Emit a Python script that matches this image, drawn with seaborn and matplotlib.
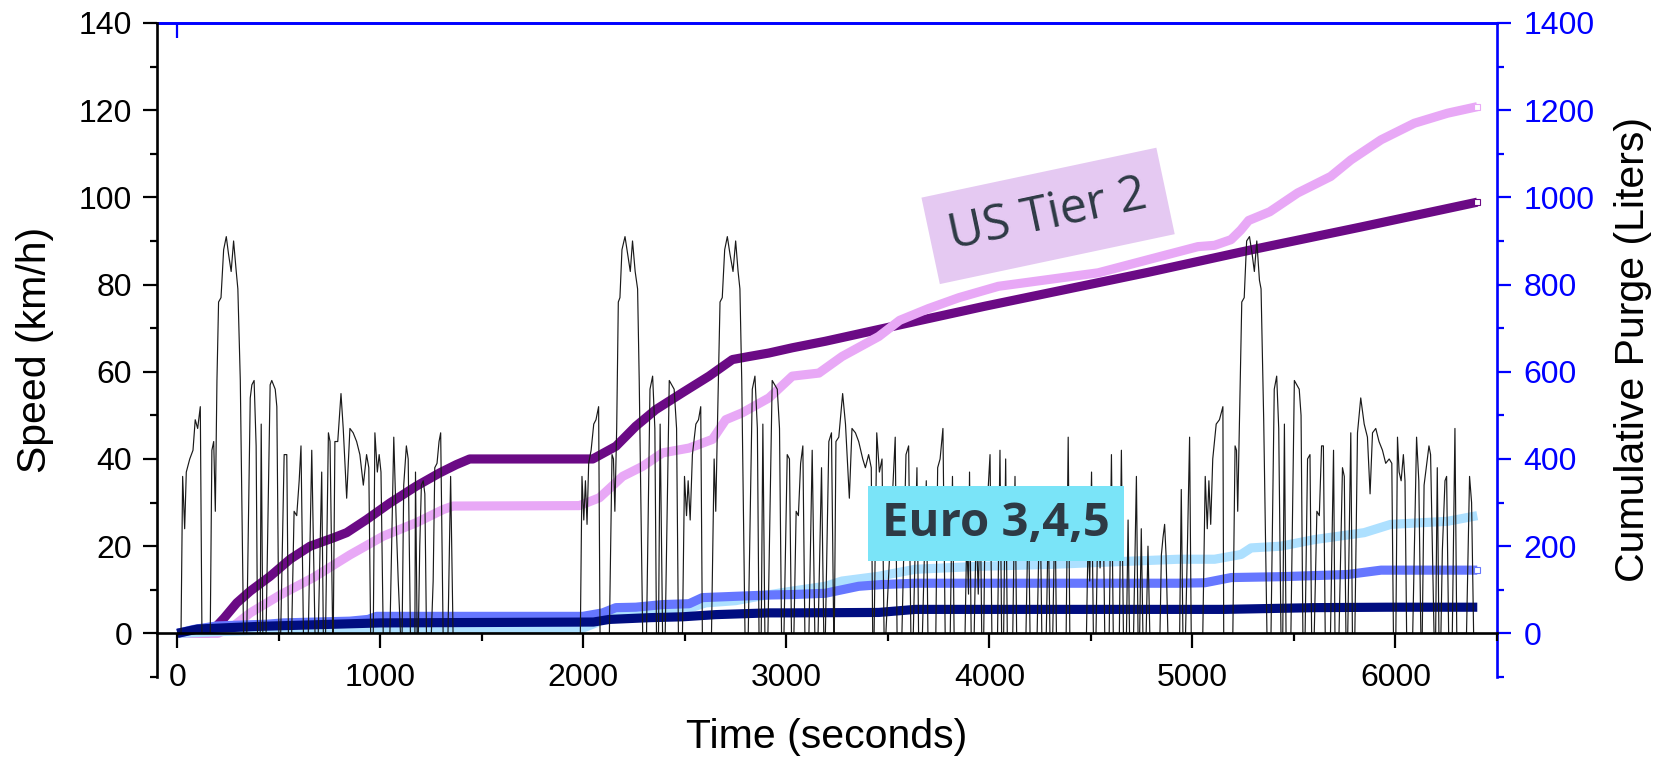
import matplotlib
matplotlib.use("Agg")
import matplotlib.pyplot as plt
import seaborn as sns
from matplotlib.ticker import MultipleLocator

# ---------------- data ----------------
speed_t = [
    0, 18, 26, 36, 44, 61, 77, 88, 100, 113, 121, 162, 170, 179, 187, 195, 203, 215, 228, 241, 252, 265, 277, 290,
    298, 310, 326, 342, 359, 367, 378, 388, 395, 408, 413, 421, 437, 457, 465, 482, 490, 500,
    509, 526, 539, 547, 563, 575, 588, 600, 609, 621, 645, 662, 678, 694, 711, 719, 730, 744, 752, 765, 768, 776,
    790, 806, 817, 834, 850, 866, 883, 899, 916, 932, 943, 952, 965, 973, 985, 994, 1003, 1014, 1047, 1066, 1079,
    1088, 1099, 1107, 1115, 1128, 1137, 1148, 1170, 1173, 1181, 1187, 1194, 1202, 1211, 1219, 1227, 1251, 1260,
    1268, 1279, 1289, 1297, 1309, 1333, 1346, 1358,
    1985, 1993, 2002, 2010, 2018, 2026, 2038, 2051, 2062, 2075, 2082, 2128, 2141, 2148, 2155, 2164, 2172, 2180,
    2190, 2205, 2218, 2231, 2242, 2255, 2267, 2275, 2292, 2311, 2328, 2341, 2352, 2360, 2370, 2378, 2390, 2403,
    2423, 2447, 2459, 2468,
    2488, 2498, 2508, 2516, 2526, 2537, 2554, 2567, 2578, 2586, 2631, 2644, 2652, 2660, 2673, 2684, 2696, 2709,
    2722, 2737, 2750, 2762, 2771, 2780, 2796, 2812, 2832, 2845, 2857, 2865, 2876, 2884, 2894, 2909, 2930, 2955,
    2966, 2976,
    2988, 3004, 3015, 3025, 3037, 3048, 3059, 3070, 3081, 3091, 3111, 3127, 3140, 3156, 3173, 3184, 3192, 3209,
    3222, 3233, 3236, 3244, 3258, 3277, 3291, 3310, 3323, 3340, 3356, 3376, 3389, 3405, 3418, 3425, 3432, 3445,
    3458, 3471, 3481, 3490, 3536, 3545, 3569, 3589, 3602, 3613, 3625, 3643, 3651, 3670, 3689, 3697, 3736, 3745,
    3757, 3771, 3782, 3807, 3818, 3826,
    3880, 3888, 3897, 3902, 3910, 3925, 3935, 3945, 3955, 3962, 3972, 3979, 3990, 4003, 4012, 4040, 4052, 4060,
    4070, 4080, 4088, 4115, 4126, 4134, 4180, 4192, 4200, 4235, 4249, 4258, 4280, 4290, 4298, 4312, 4323, 4330,
    4378, 4388, 4396, 4478, 4486, 4494, 4503, 4512, 4525, 4535, 4545, 4560, 4568, 4590, 4601, 4610, 4640, 4650,
    4660, 4675, 4683, 4690, 4710, 4724, 4732, 4740, 4748, 4756, 4772, 4781, 4790, 4840, 4847, 4855, 4863, 4870,
    4879, 4937, 4945, 4953, 4966, 4974, 4986, 4994,
    5051, 5063, 5073, 5081, 5090, 5100, 5117, 5133, 5150, 5154, 5199, 5210, 5217, 5223, 5231, 5243, 5255, 5267,
    5281, 5294, 5305, 5317, 5330, 5338, 5351, 5367, 5387, 5403, 5415, 5425, 5436, 5445, 5453, 5461, 5485, 5502,
    5526, 5535, 5544,
    5555, 5567, 5579, 5587, 5600, 5613, 5625, 5636, 5645, 5654, 5680, 5695, 5702, 5722, 5739, 5748, 5756, 5765,
    5780, 5788, 5800, 5813, 5829, 5846, 5862, 5875, 5887, 5903, 5919, 5936, 5952, 5969, 5982, 5990, 6002, 6010,
    6018, 6028, 6039, 6047, 6055, 6085, 6104, 6115, 6125, 6132, 6141, 6165, 6173, 6190, 6198, 6206, 6214, 6224,
    6231, 6244, 6252, 6262, 6280, 6293, 6302, 6350, 6365, 6375, 6385, 6400,
]
speed_v = [
    0, 0, 36, 24, 37, 40, 42, 49, 47, 52, 0, 0, 42, 44, 28, 58, 76, 77, 88, 91, 87, 83, 90, 83,
    79, 58, 0, 0, 54, 57, 58, 43, 0, 0, 48, 0, 0, 57, 58, 56, 52, 0,
    0, 41, 41, 0, 0, 28, 27, 35, 43, 0, 0, 42, 0, 0, 37, 0, 0, 46, 44, 0, 0, 44,
    44, 55, 47, 31, 47, 46, 44, 41, 34, 41, 38, 0, 0, 46, 37, 41, 37, 0, 0, 45, 24,
    12, 0, 0, 34, 43, 40, 0, 0, 37, 0, 0, 20, 34, 35, 32, 0, 0, 12,
    38, 39, 44, 46, 0, 0, 36, 0,
    0, 36, 26, 35, 25, 39, 42, 48, 49, 52, 0, 0, 41, 40, 28, 47, 76, 77,
    88, 91, 87, 83, 90, 83, 79, 58, 0, 0, 56, 59, 47, 0, 0, 48, 0, 0,
    58, 56, 47, 0,
    0, 36, 27, 35, 26, 41, 48, 49, 52, 0, 0, 40, 28, 47, 76, 77, 88, 91,
    87, 83, 90, 83, 79, 58, 0, 0, 56, 59, 47, 0, 0, 48, 0, 0, 58, 56,
    47, 0,
    0, 41, 40, 0, 0, 28, 27, 39, 43, 0, 0, 42, 0, 0, 38, 0, 0, 44,
    46, 0, 0, 44, 45, 55, 48, 31, 47, 46, 44, 40, 38, 41, 38, 0, 0, 46,
    37, 40, 0, 0, 45, 0, 0, 41, 43, 0, 0, 38, 0, 0, 35, 0, 0, 38,
    40, 47, 0, 0, 36, 0,
    0, 22, 9, 37, 0, 0, 25, 9, 30, 0, 0, 28, 30, 41, 0, 0, 42, 0,
    0, 40, 0, 0, 36, 0, 0, 30, 0, 0, 33, 0, 0, 26, 0, 0, 30, 0,
    0, 45, 0, 0, 22, 12, 37, 0, 0, 28, 15, 30, 0, 0, 41, 0, 0, 42,
    0, 0, 26, 0, 0, 36, 0, 0, 24, 0, 0, 20, 0, 0, 18, 22, 25, 18,
    0, 0, 33, 0, 0, 17, 45, 0,
    0, 36, 24, 35, 25, 40, 48, 49, 52, 0, 0, 43, 42, 28, 47, 76, 77, 90,
    91, 87, 83, 90, 81, 79, 49, 0, 0, 56, 59, 47, 0, 0, 48, 0, 0, 58,
    56, 50, 0,
    0, 40, 41, 0, 0, 28, 27, 43, 43, 0, 0, 42, 0, 0, 38, 36, 0, 0,
    46, 0, 0, 46, 54, 48, 45, 32, 46, 47, 44, 42, 39, 40, 39, 0, 0, 45,
    37, 35, 41, 35, 0, 0, 45, 35, 0, 0, 34, 43, 41, 0, 0, 38, 0, 0,
    19, 35, 36, 0, 0, 47, 0, 0, 36, 30, 0, 0,
]

tier2_a_t = [0, 150, 180, 230, 293, 359, 457, 555, 654, 768, 834, 932, 1047, 1178, 1292, 1374, 1440, 2046,
             2160, 2258, 2356, 2488, 2619, 2734, 2816, 2914, 3029, 3192, 3455, 3974, 4781, 5273, 5830, 6403]
tier2_a_v = [0, 0, 10, 35, 70, 97, 131, 170, 200, 219, 231, 261, 299, 338, 368, 387, 400, 400,
             429, 475, 513, 552, 590, 628, 635, 643, 655, 670, 697, 750, 828, 878, 932, 989]

tier2_b_t = [0, 200, 277, 359, 506, 670, 850, 1014, 1178, 1309, 1358, 1980, 2079, 2193, 2291, 2390, 2521,
             2636, 2701, 2783, 2914, 3029, 3160, 3274, 3455, 3558, 3700, 3850, 4044, 4536, 4781, 5027, 5109,
             5190, 5238, 5277, 5381, 5518, 5681, 5781, 5929, 6093, 6256, 6403]
tier2_b_v = [0, 0, 17, 47, 88, 128, 180, 223, 254, 284, 292, 293, 311, 360, 383, 414, 425,
             445, 490, 506, 540, 590, 597, 635, 681, 718, 745, 770, 796, 827, 857, 887, 890,
             903, 925, 947, 967, 1010, 1048, 1086, 1132, 1170, 1193, 1208]

euro_a_t = [0, 80, 195, 441, 522, 850, 940, 981, 1997, 2095, 2160, 2258, 2390, 2521, 2586, 2750, 2914,
            3029, 3192, 3356, 3471, 3635, 4929, 5060, 5191, 5436, 5764, 5929, 6255, 6403]
euro_a_v = [0, 9, 17, 21, 24, 28, 32, 39, 39, 47, 59, 60, 66, 68, 82, 85, 88,
            89, 92, 108, 112, 115, 115, 116, 128, 130, 135, 145, 145, 145]

euro_b_t = [0, 200, 500, 1997, 2062, 2111, 2258, 2406, 2537, 2603, 2750, 2865, 3029, 3192, 3274, 3455,
            3635, 3962, 4290, 4929, 5109, 5240, 5289, 5436, 5600, 5846, 5977, 6256, 6403]
euro_b_v = [0, 4, 8, 12, 24, 38, 44, 55, 60, 70, 75, 85, 97, 108, 120, 131,
            147, 154, 158, 170, 170, 181, 196, 200, 215, 231, 250, 257, 270]

euro_c_t = [0, 100, 400, 1000, 2050, 2128, 2324, 2488, 2652, 2914, 3029, 3455, 3635, 4929, 5158, 5600,
            5961, 6403]
euro_c_v = [0, 10, 16, 24, 26, 32, 36, 38, 43, 47, 47, 48, 55, 55, 55, 59,
            60, 60]

x_ticks = [0, 1000, 2000, 3000, 4000, 5000, 6000]

# ---------------- styling ----------------
sns.set_theme(style="white")
plt.rcParams["font.family"] = ["Liberation Sans", "DejaVu Sans"]

C_PURPLE = "#6b0a85"
C_PINK = "#e8a8f6"
C_MBLUE = "#6677ff"
C_LBLUE = "#ade0ff"
C_NAVY = "#000d80"
TXT = "#2e3a45"

fig = plt.figure(figsize=(16.62, 7.58), dpi=100)
ax = fig.add_axes([0.0945, 0.1069, 0.8062, 0.8628])
ax2 = ax.twinx()

# cumulative purge (right axis)
series = [
    (tier2_a_t, tier2_a_v, C_PURPLE, True),
    (tier2_b_t, tier2_b_v, C_PINK, True),
    (euro_b_t, euro_b_v, C_LBLUE, False),
    (euro_a_t, euro_a_v, C_MBLUE, True),
    (euro_c_t, euro_c_v, C_NAVY, False),
]
for t, v, c, endmark in series:
    sns.lineplot(x=t, y=v, ax=ax2, color=c, linewidth=6.6, estimator=None, sort=False)
    ln = ax2.lines[-1]
    ln.set_solid_capstyle("butt")
    ln.set_solid_joinstyle("round")
    if endmark:
        ln.set_marker("s")
        ln.set_markevery([len(t) - 1])
        ln.set_markersize(4)
        ln.set_markerfacecolor("white")
        ln.set_markeredgecolor(c)
        ln.set_markeredgewidth(0.8)

# speed trace (left axis), drawn on top
sns.lineplot(x=speed_t, y=speed_v, ax=ax, color="#1a1a1a", linewidth=0.85, estimator=None, sort=False)

ax.set_zorder(ax2.get_zorder() + 1)
ax.patch.set_visible(False)

# limits / ticks
ax.set_xlim(-100, 6500)
ax.set_xticks(x_ticks)
ax.xaxis.set_minor_locator(MultipleLocator(500))
ax.yaxis.set_major_locator(MultipleLocator(20))
ax.yaxis.set_minor_locator(MultipleLocator(10))
ax2.yaxis.set_major_locator(MultipleLocator(200))
ax2.yaxis.set_minor_locator(MultipleLocator(100))
ax.set_ylim(-10, 140)
ax2.set_ylim(-100, 1400)

ax.spines["bottom"].set_position(("data", 0))
for s in ["top", "right"]:
    ax.spines[s].set_visible(False)
for s in ["bottom", "left"]:
    ax2.spines[s].set_visible(False)
ax.spines["left"].set_color("black")
ax.spines["bottom"].set_color("black")
ax.spines["left"].set_linewidth(1.9)
ax.spines["bottom"].set_linewidth(1.9)
ax2.spines["right"].set_color("blue")
ax2.spines["top"].set_color("blue")
ax2.spines["right"].set_linewidth(1.9)
ax2.spines["top"].set_linewidth(1.9)

ax.tick_params(axis="x", which="major", bottom=True, direction="out", length=11, width=1.6,
               labelsize=23, pad=10, colors="black")
ax.tick_params(axis="x", which="minor", bottom=True, direction="out", length=5.5, width=1.6, colors="black")
ax.tick_params(axis="y", which="major", left=True, direction="out", length=10, width=1.6,
               labelsize=23, pad=8, colors="black")
ax.tick_params(axis="y", which="minor", left=True, direction="out", length=5, width=1.6, colors="black")
ax2.tick_params(axis="y", which="major", right=True, direction="out", length=10, width=1.6,
                labelsize=23, pad=9, colors="blue")
ax2.tick_params(axis="y", which="minor", right=True, direction="out", length=5, width=1.6, colors="blue")

sec = ax.secondary_xaxis("top")
sec.set_xticks([0])
sec.tick_params(axis="x", direction="in", length=11, width=1.6, colors="blue", labeltop=False)
sec.spines["top"].set_color("blue")
sec.spines["top"].set_linewidth(1.9)

ax.set_xlabel("Time (seconds)", fontsize=29.5, color="black")
ax.xaxis.set_label_coords(0.5, -0.062)
ax.set_ylabel("Speed (km/h)", fontsize=29.5, color="black")
ax.yaxis.set_label_coords(-0.077, 0.5)
ax2.set_ylabel("Cumulative Purge (Liters)", fontsize=29.5, color="black")
ax2.yaxis.set_label_coords(1.087, 0.5)

# annotations
ax.text(0.665, 0.705, "US Tier 2", transform=ax.transAxes, fontsize=35, family=["Open Sans", "DejaVu Sans"],
        color=TXT, rotation=12, rotation_mode="anchor", ha="center", va="center", zorder=10,
        bbox=dict(boxstyle="square,pad=0.4", fc="#e5c9f2", ec="none"))
ax.text(0.626, 0.2346, "Euro 3,4,5", transform=ax.transAxes, fontsize=34, fontweight="bold",
        family=["Open Sans", "DejaVu Sans"], color=TXT, ha="center", va="center", zorder=10,
        bbox=dict(boxstyle="square,pad=0.3", fc="#7ae4f8", ec="none"))

fig.savefig("out.png", dpi=100)
